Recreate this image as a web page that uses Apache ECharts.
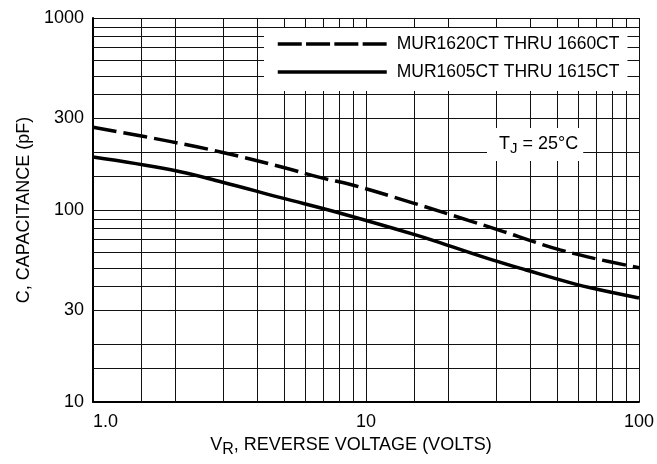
<!DOCTYPE html>
<html>
<head>
<meta charset="utf-8">
<script src="https://cdn.jsdelivr.net/npm/echarts@6/dist/echarts.min.js"></script>
<style>
html, body { margin: 0; padding: 0; background: #fff; }
#chart { width: 657px; height: 464px; }
</style>
</head>
<body>
<div id="chart"></div>
<script>
var FONT = '"Liberation Sans", Arial, sans-serif';

// curve names
var seriesNames = ['MUR1620CT THRU 1660CT', 'MUR1605CT THRU 1615CT'];
// MUR1620CT thru 1660CT (dashed)
var voltsHigh = [1, 1.93, 2.96, 4.87, 6.88, 8.92, 14.8, 24.5, 32.1, 40.3, 51.4, 68.5, 100];
var capHigh = [270, 227, 200, 168, 147, 135, 109, 87, 77, 69, 62, 56, 50];
// MUR1605CT thru 1615CT (solid)
var voltsLow = [1, 1.93, 2.96, 4.87, 8.0, 15.3, 19, 29, 38.6, 58.9, 69.6, 100];
var capLow = [189, 162, 140, 116, 96.5, 74, 67, 55, 48.7, 41, 38.8, 34.8];

// log grid
var xMinorGrid = [1.5, 2, 3, 4, 5, 6, 7, 8, 9, 15, 20, 30, 40, 50, 60, 70, 80, 90];
var yMinorGrid = [15, 20, 30, 40, 50, 60, 70, 80, 90, 150, 200, 300, 400, 500, 600, 700, 800, 900];
var xTickLabels = [1, 10, 100];
var yTickLabels = [10, 30, 100, 300, 1000];

function pairs(xs, ys) {
	var out = [];
	for (var i = 0; i < xs.length; i++) {
		out.push([xs[i], ys[i]]);
	}
	return out;
}

var gridLines = [];
xMinorGrid.forEach(function (v) { gridLines.push({ xAxis: v }); });
yMinorGrid.forEach(function (v) { gridLines.push({ yAxis: v }); });

var chart = echarts.init(document.getElementById('chart'));
var option = {
	animation: false,
	backgroundColor: '#fff',
	textStyle: { fontFamily: FONT, color: '#000' },
	grid: { left: 93, right: 17, top: 18, bottom: 62 },
	title: {
		text: '{t|T}{s|J}{t| = 25°C}',
		left: 487,
		top: 125,
		padding: [7, 5, 5, 12],
		backgroundColor: '#fff',
		textStyle: {
			fontWeight: 'normal',
			rich: {
				t: { fontSize: 18, fontFamily: FONT, fontWeight: 'normal', color: '#000' },
				s: { fontSize: 15, fontFamily: FONT, fontWeight: 'normal', color: '#000', padding: [9, 0, 0, 0] }
			}
		}
	},
	legend: {
		orient: 'vertical',
		left: 264,
		top: 28,
		padding: [6, 8, 9, 12],
		itemGap: 8,
		itemWidth: 109,
		itemHeight: 3,
		backgroundColor: '#fff',
		itemStyle: { opacity: 0 },
		textStyle: { fontSize: 17.5, lineHeight: 20, fontFamily: FONT, color: '#000', padding: [0, 0, 0, 5] },
		data: [
			{ name: seriesNames[0], lineStyle: { type: [24, 4.3], width: 3.5 } },
			{ name: seriesNames[1], lineStyle: { width: 3.5 } }
		]
	},
	xAxis: {
		type: 'log',
		logBase: 10,
		min: 1,
		max: 100,
		name: '{a|V}{b|R}{a|, REVERSE VOLTAGE (VOLTS)}',
		nameLocation: 'middle',
		nameGap: 27,
		nameTextStyle: {
			padding: [0, 30, 0, 0],
			rich: {
				a: { fontSize: 18, fontFamily: FONT, color: '#000' },
				b: { fontSize: 16, fontFamily: FONT, color: '#000', padding: [9, 0, 0, 0] }
			}
		},
		axisLine: { lineStyle: { color: '#000', width: 2 } },
		axisTick: { show: false },
		axisLabel: {
			customValues: xTickLabels,
			alignMinLabel: 'left',
			margin: 11,
			fontSize: 18,
			color: '#000',
			formatter: function (v) { return v === 1 ? '1.0' : String(v); }
		},
		splitLine: { show: true, lineStyle: { color: '#111', width: 1 } }
	},
	yAxis: {
		type: 'log',
		logBase: 10,
		min: 10,
		max: 1000,
		name: 'C, CAPACITANCE (pF)',
		nameLocation: 'middle',
		nameGap: 53,
		nameTextStyle: { fontSize: 18, fontFamily: FONT, color: '#000' },
		axisLine: { lineStyle: { color: '#000', width: 2 } },
		axisTick: { show: false },
		axisLabel: {
			customValues: yTickLabels,
			margin: 9,
			fontSize: 18,
			color: '#000',
			padding: [6, 0, 0, 0],
			formatter: function (v) { return String(v); }
		},
		splitLine: { show: true, lineStyle: { color: '#111', width: 1 } }
	},
	series: [{
		name: 'grid',
		type: 'line',
		z: 1,
		silent: true,
		data: [],
		markLine: {
			z: 1,
			silent: true,
			symbol: 'none',
			label: { show: false },
			lineStyle: { color: '#111', width: 1, type: 'solid' },
			data: gridLines
		}
	}, {
		name: seriesNames[0],
		type: 'line',
		z: 3,
		smooth: 0.4,
		showSymbol: false,
		symbol: 'none',
		lineStyle: { color: '#000', width: 3.5, type: [24, 7] },
		itemStyle: { color: '#000' },
		data: pairs(voltsHigh, capHigh)
	}, {
		name: seriesNames[1],
		type: 'line',
		z: 3,
		smooth: 0.4,
		showSymbol: false,
		symbol: 'none',
		lineStyle: { color: '#000', width: 3.5 },
		itemStyle: { color: '#000' },
		data: pairs(voltsLow, capLow)
	}]
};
chart.setOption(option);
</script>
</body>
</html>
